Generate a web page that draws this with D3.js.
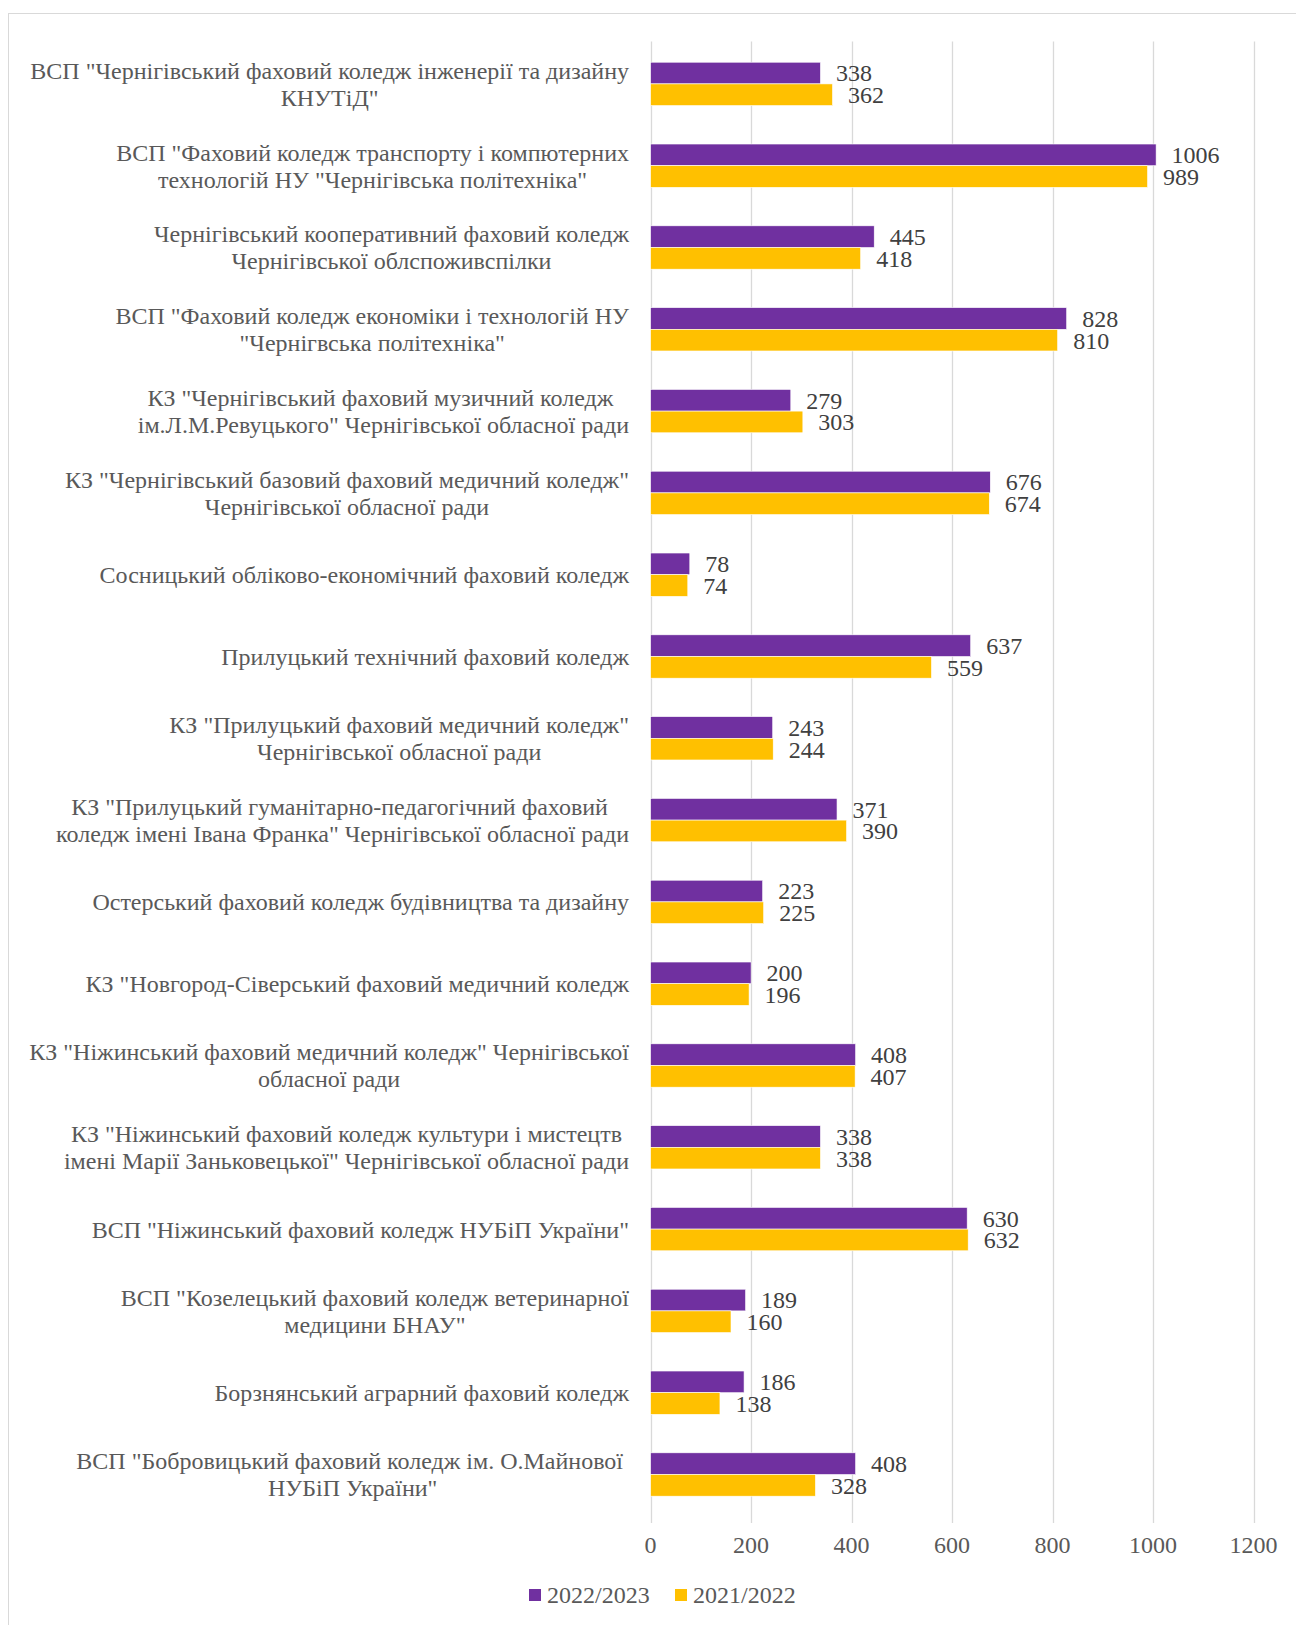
<!DOCTYPE html>
<html>
<head>
  <meta charset="utf-8">
  <title>Коледжі Чернігівщини</title>
  <style>
    body { margin: 0; background: #fff; }
    svg text { font-family: "Liberation Serif", "Times New Roman", serif; white-space: pre; }
  </style>
</head>
<body>
  <script src="https://d3js.org/d3.v7.min.js"></script>
  <script>
    // category labels, each split into the lines as shown
    var categories = [
      ['ВСП "Чернігівський фаховий коледж інженерії та дизайну', 'КНУТіД"'],
      ['ВСП "Фаховий коледж транспорту і компютерних', 'технологій НУ "Чернігівська політехніка"'],
      ['Чернігівський кооперативний фаховий коледж', 'Чернігівської облспоживспілки'],
      ['ВСП "Фаховий коледж економіки і технологій НУ', '"Чернігвська політехніка"'],
      ['КЗ "Чернігівський фаховий музичний коледж ', 'ім.Л.М.Ревуцького" Чернігівської обласної ради'],
      ['КЗ "Чернігівський базовий фаховий медичний коледж"', 'Чернігівської обласної ради'],
      ['Сосницький обліково-економічний фаховий коледж'],
      ['Прилуцький технічний фаховий коледж'],
      ['КЗ "Прилуцький фаховий медичний коледж"', 'Чернігівської обласної ради'],
      ['КЗ "Прилуцький гуманітарно-педагогічний фаховий ', 'коледж імені Івана Франка" Чернігівської обласної ради'],
      ['Остерський фаховий коледж будівництва та дизайну'],
      ['КЗ "Новгород-Сіверський фаховий медичний коледж'],
      ['КЗ "Ніжинський фаховий медичний коледж" Чернігівської', 'обласної ради'],
      ['КЗ "Ніжинський фаховий коледж культури і мистецтв', 'імені Марії Заньковецької" Чернігівської обласної ради'],
      ['ВСП "Ніжинський фаховий коледж НУБіП України"'],
      ['ВСП "Козелецький фаховий коледж ветеринарної', 'медицини БНАУ"'],
      ['Борзнянський аграрний фаховий коледж'],
      ['ВСП "Бобровицький фаховий коледж ім. О.Майнової ', 'НУБіП України"']
    ];
    var values2022_2023 = [338, 1006, 445, 828, 279, 676, 78, 637, 243, 371, 223, 200, 408, 338, 630, 189, 186, 408];
    var values2021_2022 = [362, 989, 418, 810, 303, 674, 74, 559, 244, 390, 225, 196, 407, 338, 632, 160, 138, 328];
    var seriesNames = ["2022/2023", "2021/2022"];
    var seriesColors = ["#7030A0", "#FFC000"];
    var xTicks = [0, 200, 400, 600, 800, 1000, 1200];

    var W = 1296, H = 1625;
    var svg = d3.select("body").append("svg")
        .attr("width", W)
        .attr("height", H);

    // chart area border (right and bottom run off the page)
    svg.append("rect")
        .attr("x", 8.5).attr("y", 13.5)
        .attr("width", 1320).attr("height", 1640)
        .attr("fill", "none")
        .attr("stroke", "#d9d9d9");

    var x = d3.scaleLinear().domain([0, 1200]).range([650.6, 1253.6]);

    var rows = categories.map(function(c, i) {
      return {i: i, lines: c, vals: [values2022_2023[i], values2021_2022[i]]};
    });

    var y = d3.scaleBand()
        .domain(d3.range(categories.length))
        .range([43, 1515.4])
        .paddingInner(0.47)
        .paddingOuter(0.235);

    var ySub = d3.scaleBand()
        .domain([0, 1])
        .range([0, y.bandwidth()]);

    // gridlines
    svg.append("g").selectAll("line")
        .data(xTicks)
        .enter().append("line")
        .attr("x1", d => Math.round(x(d)) + 0.5)
        .attr("x2", d => Math.round(x(d)) + 0.5)
        .attr("y1", 41.5)
        .attr("y2", 1523)
        .attr("stroke", "#d9d9d9")
        .attr("stroke-width", 1.3);

    // x tick labels
    svg.append("g").selectAll("text")
        .data(xTicks)
        .enter().append("text")
        .attr("x", d => x(d))
        .attr("y", 1545)
        .attr("dy", "0.35em")
        .attr("text-anchor", "middle")
        .attr("font-size", 24)
        .attr("fill", "#595959")
        .text(d => d);

    // bars
    var groups = svg.append("g").selectAll("g")
        .data(rows)
        .enter().append("g")
        .attr("transform", d => "translate(0," + y(d.i) + ")");

    groups.selectAll("rect")
        .data(d => d.vals)
        .enter().append("rect")
        .attr("x", x(0))
        .attr("y", (d, j) => ySub(j))
        .attr("width", d => x(d) - x(0))
        .attr("height", ySub.bandwidth())
        .attr("fill", (d, j) => seriesColors[j])
        .attr("stroke", "#ffffff")
        .attr("stroke-width", 0.6);

    // value labels
    groups.selectAll("text.val")
        .data(d => d.vals)
        .enter().append("text")
        .attr("class", "val")
        .attr("x", d => x(d) + 15.5)
        .attr("y", (d, j) => ySub(j) + ySub.bandwidth() / 2)
        .attr("dy", "0.35em")
        .attr("font-size", 24)
        .attr("fill", "#404040")
        .text(d => d);

    // category labels: block right aligned, lines centred inside it
    var labelRight = 629;
    var lineGap = 27;
    rows.forEach(function(r) {
      var cy = y(r.i) + y.bandwidth() / 2;
      var g = svg.append("g");
      var texts = r.lines.map(function(line, k) {
        return g.append("text")
            .attr("y", cy + (k - (r.lines.length - 1) / 2) * lineGap)
            .attr("dy", "0.35em")
            .attr("font-size", 24)
            .attr("fill", "#595959")
            .attr("text-anchor", "middle")
            .text(line);
      });
      var maxW = d3.max(texts, t => t.node().getComputedTextLength());
      texts.forEach(t => t.attr("x", labelRight - maxW / 2));
    });

    // legend
    var legendX = [529, 675];
    var legend = svg.append("g").selectAll("g")
        .data(seriesNames)
        .enter().append("g")
        .attr("transform", (d, i) => "translate(" + legendX[i] + ",1595)");

    legend.append("rect")
        .attr("x", 0).attr("y", -6)
        .attr("width", 12).attr("height", 12)
        .attr("fill", (d, i) => seriesColors[i]);

    legend.append("text")
        .attr("x", 18)
        .attr("dy", "0.35em")
        .attr("font-size", 24)
        .attr("fill", "#595959")
        .text(d => d);
  </script>
</body>
</html>
